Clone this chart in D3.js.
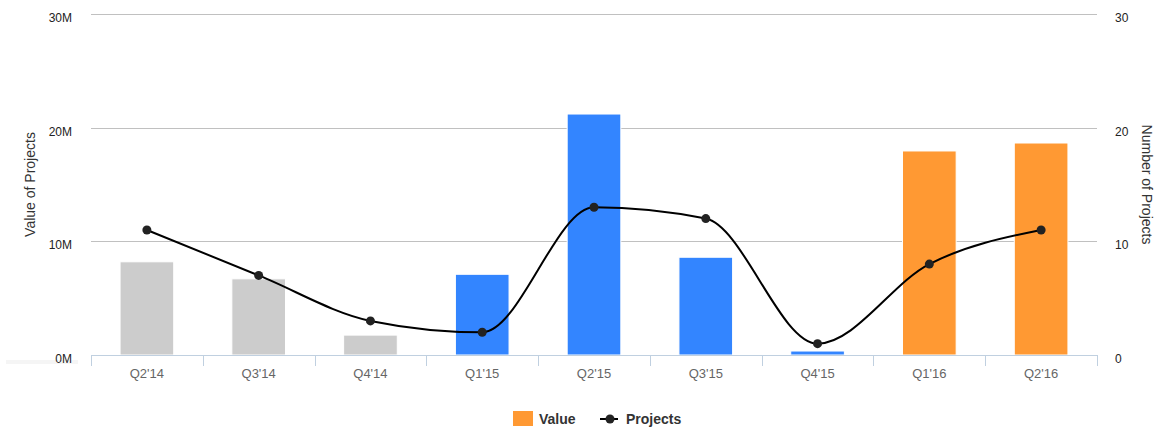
<!DOCTYPE html>
<html>
<head>
<meta charset="utf-8">
<script src="https://cdn.jsdelivr.net/npm/d3@7"></script>
<style>
  html, body { margin: 0; padding: 0; background: #fff; }
  svg { display: block; font-family: "Liberation Sans", Arial, sans-serif; }
</style>
</head>
<body>
<svg id="chart" width="1157" height="428"></svg>
<script>
// Quarterly project value and project count
const quarters = ["Q2'14", "Q3'14", "Q4'14", "Q1'15", "Q2'15", "Q3'15", "Q4'15", "Q1'16", "Q2'16"];
const values = [8.2e6, 6.7e6, 1.75e6, 7.1e6, 21.2e6, 8.6e6, 0.35e6, 17.95e6, 18.65e6];
const projects = [11, 7, 3, 2, 13, 12, 1, 8, 11];
const barColors = ["#cccccc", "#cccccc", "#cccccc", "#3385ff", "#3385ff", "#3385ff", "#3385ff", "#ff9933", "#ff9933"];
const valueTicks = [0, 10e6, 20e6, 30e6];
const countTicks = [0, 10, 20, 30];

const svg = d3.select("#chart");
const plotLeft = 91, plotRight = 1097, plotTop = 14, plotBottom = 355;

const x = d3.scaleBand().domain(quarters).range([plotLeft, plotRight]).paddingInner(0).paddingOuter(0);
const yVal = d3.scaleLinear().domain([0, 30e6]).range([plotBottom, plotTop]);
const yCnt = d3.scaleLinear().domain([0, 30]).range([plotBottom, plotTop]);

// faint strip beside the zero label
svg.append("rect").attr("x", 6).attr("y", 360).attr("width", 72).attr("height", 4).attr("fill", "#f5f5f5");

// horizontal grid
svg.append("g").selectAll("line").data(valueTicks.filter(d => d > 0)).join("line")
  .attr("x1", plotLeft).attr("x2", plotRight)
  .attr("y1", d => Math.round(yVal(d)) + 0.5).attr("y2", d => Math.round(yVal(d)) + 0.5)
  .attr("stroke", "#c0c0c0").attr("stroke-width", 1);

// left axis labels
svg.append("g").selectAll("text").data(valueTicks).join("text")
  .attr("x", 72).attr("y", d => yVal(d) + 8)
  .attr("text-anchor", "end").attr("font-size", 12).attr("fill", "#222")
  .text(d => d3.format("d")(d / 1e6) + "M");

// right axis labels
svg.append("g").selectAll("text").data(countTicks).join("text")
  .attr("x", 1115).attr("y", d => yCnt(d) + 8)
  .attr("text-anchor", "start").attr("font-size", 12).attr("fill", "#222")
  .text(d => d);

// axis titles
svg.append("text").attr("transform", `translate(35,${(plotTop + plotBottom) / 2}) rotate(-90)`)
  .attr("text-anchor", "middle").attr("font-size", 14).attr("fill", "#333").text("Value of Projects");
svg.append("text").attr("transform", `translate(1142,${(plotTop + plotBottom) / 2}) rotate(90)`)
  .attr("text-anchor", "middle").attr("font-size", 14).attr("fill", "#333").text("Number of Projects");

// bars
const bw = x.bandwidth() * 0.48;
svg.append("g").selectAll("rect").data(quarters).join("rect")
  .attr("x", d => x(d) + (x.bandwidth() - bw) / 2)
  .attr("y", (d, i) => yVal(values[i]))
  .attr("width", bw)
  .attr("height", (d, i) => plotBottom - yVal(values[i]))
  .attr("fill", (d, i) => barColors[i])
  .attr("stroke", "#fff").attr("stroke-width", 1);

// x axis
const xAxis = svg.append("g");
xAxis.append("line").attr("x1", plotLeft).attr("x2", plotRight).attr("y1", plotBottom + 0.5).attr("y2", plotBottom + 0.5)
  .attr("stroke", "#c0d0e0").attr("stroke-width", 1);
const tickPos = quarters.map(q => x(q)).concat([plotRight]);
xAxis.selectAll("line.tick").data(tickPos).join("line").attr("class", "tick")
  .attr("x1", d => Math.round(d) + 0.5).attr("x2", d => Math.round(d) + 0.5)
  .attr("y1", plotBottom).attr("y2", plotBottom + 11)
  .attr("stroke", "#c0d0e0").attr("stroke-width", 1);
xAxis.selectAll("text").data(quarters).join("text")
  .attr("x", d => x(d) + x.bandwidth() / 2).attr("y", 378)
  .attr("text-anchor", "middle").attr("font-size", 13).attr("fill", "#666")
  .text(d => d);

// project count line
const pts = quarters.map((q, i) => [x(q) + x.bandwidth() / 2, yCnt(projects[i])]);
svg.append("path").datum(pts)
  .attr("d", d3.line().curve(d3.curveMonotoneX))
  .attr("fill", "none").attr("stroke", "#000").attr("stroke-width", 2);
svg.append("g").selectAll("circle").data(pts).join("circle")
  .attr("cx", d => d[0]).attr("cy", d => d[1]).attr("r", 4.5).attr("fill", "#222");

// legend
const lg = svg.append("g");
lg.append("rect").attr("x", 513).attr("y", 411).attr("width", 20).attr("height", 15).attr("fill", "#ff9933");
lg.append("text").attr("x", 539).attr("y", 424).attr("font-size", 14).attr("font-weight", "bold").attr("fill", "#333").text("Value");
lg.append("line").attr("x1", 600).attr("x2", 618).attr("y1", 419).attr("y2", 419).attr("stroke", "#000").attr("stroke-width", 2);
lg.append("circle").attr("cx", 610).attr("cy", 419).attr("r", 4.5).attr("fill", "#222");
lg.append("text").attr("x", 626).attr("y", 424).attr("font-size", 14).attr("font-weight", "bold").attr("fill", "#333").text("Projects");
</script>
</body>
</html>
